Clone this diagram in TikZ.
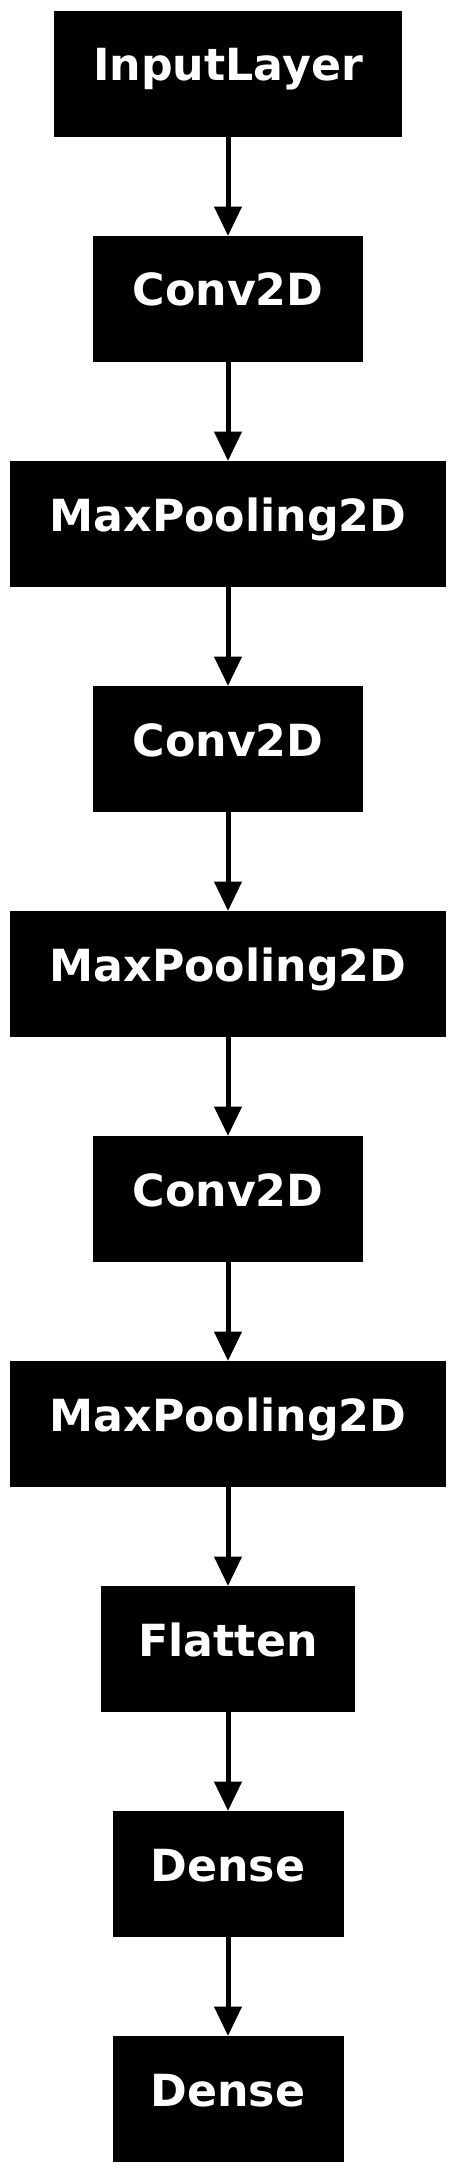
\documentclass[tikz,border=0pt]{standalone}
\usepackage{fontspec}
\setmainfont{DejaVu Sans}
\usetikzlibrary{arrows.meta,positioning}

\begin{document}
\begin{tikzpicture}[
node distance=75pt,
every node/.style={font=\fontsize{33.2}{40}\selectfont\bfseries},
layer/.style={draw=black,fill=black,text=white,inner sep=0pt,outer sep=0pt,
minimum height=93.75pt,text height=52.5pt,text depth=41.25pt},
arr/.style={-{Triangle[width=20pt,length=22pt]},line width=3.75pt}
]
\useasboundingbox (0,0) rectangle (342pt,-1629pt);
\node[layer,minimum width=260.25pt] (in) at (171pt,-55.125pt) {InputLayer};
\node[layer,minimum width=201.75pt,below=of in]   (c1)   {Conv2D};
\node[layer,minimum width=326.25pt,below=of c1]   (p1)   {MaxPooling2D};
\node[layer,minimum width=201.75pt,below=of p1]   (c2)   {Conv2D};
\node[layer,minimum width=326.25pt,below=of c2]   (p2)   {MaxPooling2D};
\node[layer,minimum width=201.75pt,below=of p2]   (c3)   {Conv2D};
\node[layer,minimum width=326.25pt,below=of c3]   (p3)   {MaxPooling2D};
\node[layer,minimum width=189.75pt,below=of p3]   (flat) {Flatten};
\node[layer,minimum width=172.5pt,below=of flat]  (d1)   {Dense};
\node[layer,minimum width=172.5pt,below=of d1]    (d2)   {Dense};

\draw[arr] (in) -- (c1);
\draw[arr] (c1) -- (p1);
\draw[arr] (p1) -- (c2);
\draw[arr] (c2) -- (p2);
\draw[arr] (p2) -- (c3);
\draw[arr] (c3) -- (p3);
\draw[arr] (p3) -- (flat);
\draw[arr] (flat) -- (d1);
\draw[arr] (d1) -- (d2);
\end{tikzpicture}
\end{document}
